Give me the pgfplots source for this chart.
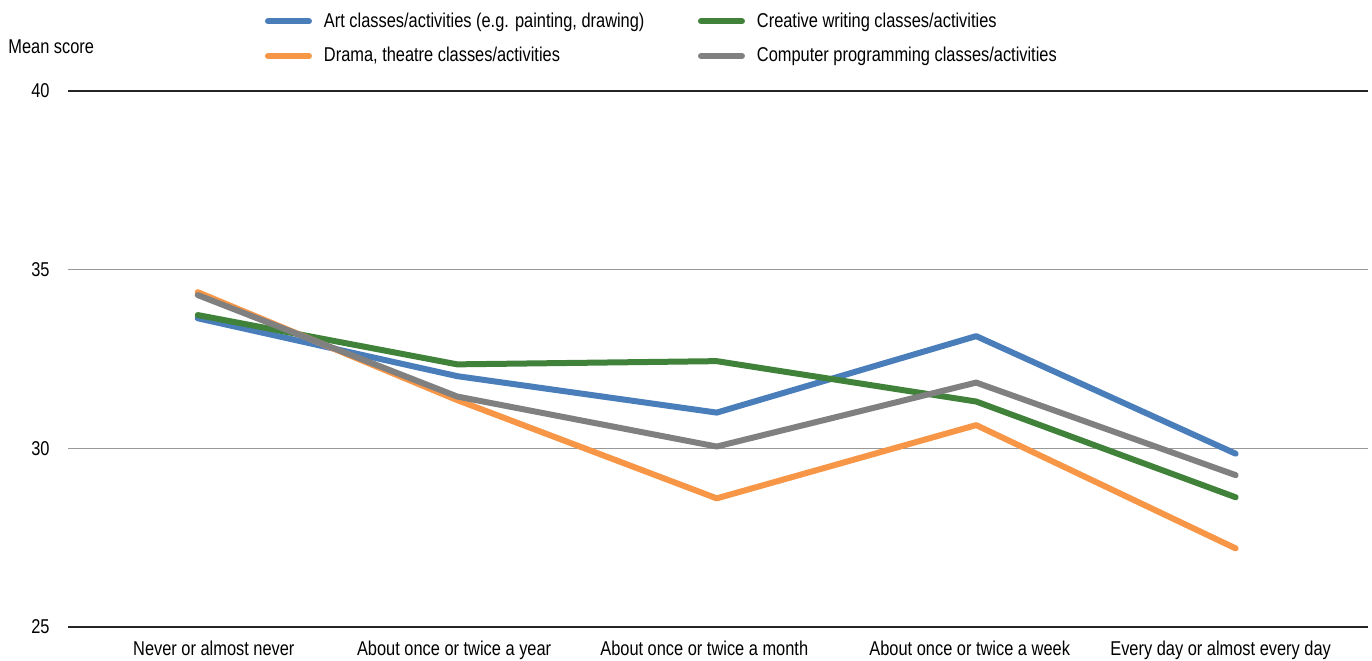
\documentclass[border=0pt]{standalone}
\usepackage{fontspec}
\setmainfont{Liberation Sans}[FakeStretch=0.82]
\usepackage{pgfplots}
\pgfplotsset{compat=1.18}
\definecolor{cblue}{HTML}{4A7EBB}
\definecolor{corange}{HTML}{F79646}
\definecolor{cgreen}{HTML}{41823B}
\definecolor{cgrey}{HTML}{808080}
\newcommand\legA[1]{\makebox[193pt][l]{\hspace*{6pt}#1}}
\newcommand\legB[1]{\makebox[150pt][l]{\hspace*{6pt}#1}}
\begin{document}
\fontsize{10}{12}\selectfont
\begin{tikzpicture}
\path[use as bounding box] (-34pt,-16.5pt) rectangle (652pt,313.5pt);
\begin{axis}[
  at={(0pt,0pt)}, anchor=south west,
  scale only axis, width=650pt, height=268pt,
  xmin=-0.5, xmax=4.51, ymin=25, ymax=40,
  axis line style={draw=none},
  major tick length=0pt,
  ytick={30,35},
  extra y ticks={25,40},
  ymajorgrids=true,
  grid style={line width=0.5pt, color=black!40},
  extra y tick style={grid style={line width=0.7pt, color=black!85}},
  /pgf/number format/assume math mode=true,
  yticklabel style={anchor=east, inner sep=0pt, xshift=-9pt, font=\fontsize{10}{12}\selectfont},
  xtick={0.062,0.988,1.952,2.975,3.942},
  xticklabels={Never or almost never, About once or twice a year, About once or twice a month, About once or twice a week, Every day or almost every day},
  xticklabel style={anchor=north, inner sep=0pt, yshift=-7pt, font=\fontsize{10}{12}\selectfont},
  legend columns=2,
  legend style={at={(0.1515,1.1463)}, anchor=north west, draw=none, fill=none,
    inner sep=0pt, outer sep=0pt, row sep=8.6pt, column sep=0pt,
    nodes={inner sep=0pt}, font=\fontsize{10}{12}\selectfont},
  legend cell align=left,
  legend image code/.code={\draw[line width=3pt, line cap=round] (0pt,0pt) -- (20.5pt,0pt);},
  every axis plot/.append style={line width=3pt, line cap=round, line join=round, no marks},
]
\addplot[color=cblue] coordinates {(0,33.64) (1,32.02) (2,31.00) (3,33.14) (4,29.85)};
\addlegendentry{\legA{Art classes/activities (e.g. painting, drawing)}}
\addplot[color=cgreen] coordinates {(0,33.73) (1,32.35) (2,32.44) (3,31.31) (4,28.63)};
\addlegendentry{\legB{Creative writing classes/activities}}
\addplot[color=corange] coordinates {(0,34.37) (1,31.35) (2,28.60) (3,30.65) (4,27.20)};
\addlegendentry{\legA{Drama, theatre classes/activities}}
\addplot[color=cgrey] coordinates {(0,34.29) (1,31.45) (2,30.05) (3,31.84) (4,29.25)};
\addlegendentry{\legB{Computer programming classes/activities}}
\end{axis}
\node[anchor=west, inner sep=0pt] at (-30pt,290pt) {Mean score};
\end{tikzpicture}
\end{document}
